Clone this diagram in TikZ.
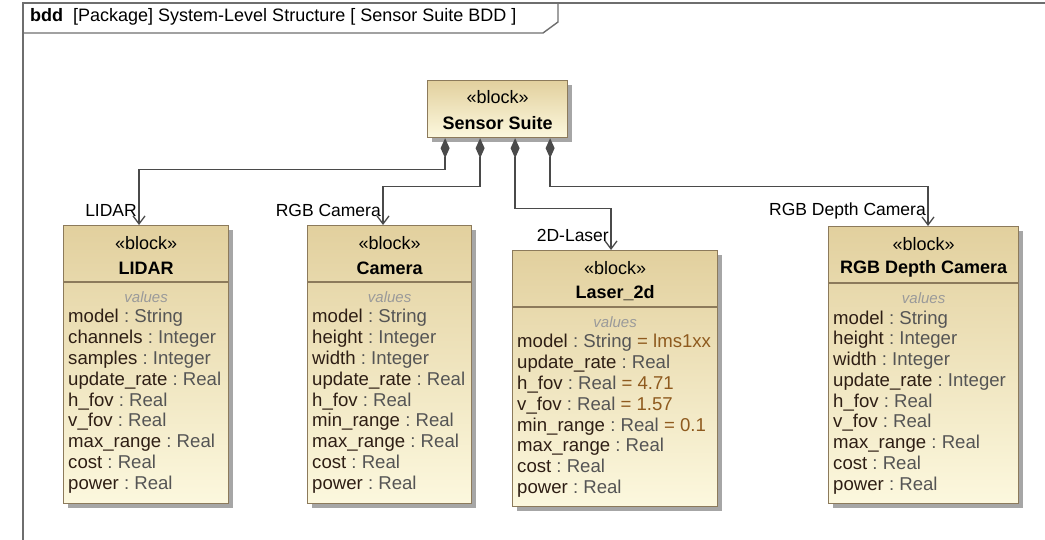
\documentclass[tikz,border=0pt]{standalone}
\usepackage{fontspec}
\setmainfont{Liberation Sans}
\usetikzlibrary{arrows.meta,calc,shadows}

\definecolor{framegray}{HTML}{6E6E6E}
\definecolor{linegray}{HTML}{4A4A4A}
\definecolor{blockedge}{HTML}{8C7A5B}
\definecolor{blocktop}{HTML}{E2D09E}
\definecolor{blockbot}{HTML}{FCF8DE}
\definecolor{attrname}{HTML}{2E1E14}
\definecolor{attrtype}{HTML}{555555}
\definecolor{attrval}{HTML}{8E5A1E}
\definecolor{compgray}{HTML}{9A9A9A}

% attribute line: name : type  (optionally = default)
\newcommand{\an}[2]{{\color{attrname}#1}{\color{attrtype}\ :\ #2}}
\newcommand{\av}[3]{\an{#1}{#2}{\color{attrval}\ =\ #3}}

% header of a block: stereotype, name, divider, compartment title
\newcommand{\blkhead}[2]{%
  \node[stereo] (#1-st) at ($(#1.north)+(0,18)$) {«block»};
  \node[bname] (#1-nm) at ($(#1.north)+(0,43)$) {#2};
  \draw[divider] ($(#1.north west)+(0,57)$) -- ($(#1.north east)+(0,57)$);
  \node[compart] (#1-vl) at ($(#1.north)+(0,72)$) {values};}

\tikzset{
  blockbox/.style={draw=blockedge, line width=1.2pt, top color=blocktop,
    bottom color=blockbot, anchor=north west, inner sep=0pt,
    drop shadow={shadow xshift=4pt, shadow yshift=-4pt, fill=black!35, opacity=1}},
  stereo/.style={font=\fontsize{18}{20}\selectfont, inner sep=0pt},
  bname/.style={font=\fontsize{18}{20}\selectfont\bfseries, inner sep=0pt},
  compart/.style={font=\fontsize{15}{17}\selectfont\itshape, text=compgray, inner sep=0pt},
  divider/.style={draw=blockedge, line width=1.2pt},
  attr/.style={font=\fontsize{18.6}{21}\selectfont, anchor=base west, inner sep=0pt},
  lbl/.style={font=\fontsize{17.5}{20}\selectfont, anchor=east, inner sep=0pt},
  comp/.style={draw=linegray, line width=1.3pt,
    {Diamond[length=20pt,width=9pt,fill=linegray]}-{Straight Barb[length=8pt,width=12pt]}},
  frameline/.style={draw=framegray, line width=1.4pt}
}

\begin{document}
\begin{tikzpicture}[x=1pt, y=-1pt]
\useasboundingbox (0,0) rectangle (1045,540);

% diagram frame with its heading tab
\draw[frameline] (23,541) -- (23,3) -- (1046,3);
\draw[frameline] (23,33) -- (543,33) -- (558,22) -- (558,3);
\node[anchor=base west, inner sep=0pt, font=\fontsize{18}{20}\selectfont] (title) at (30,22)
  {\textbf{bdd}\ \ [Package] System-Level Structure [ Sensor Suite BDD ]};

% blocks
\node[blockbox, minimum width=140pt, minimum height=57pt] (ss) at (427,80) {};
\node[stereo] (ss-st) at ($(ss.north)+(0,17)$) {«block»};
\node[bname] (ss-nm) at ($(ss.north)+(0,43)$) {Sensor Suite};

\node[blockbox, minimum width=165pt, minimum height=278pt] (lidar) at (63,225) {};
\blkhead{lidar}{LIDAR}
\foreach \t [count=\i from 0] in {{\an{model}{String}},{\an{channels}{Integer}},
  {\an{samples}{Integer}},{\an{update\_rate}{Real}},{\an{h\_fov}{Real}},
  {\an{v\_fov}{Real}},{\an{max\_range}{Real}},{\an{cost}{Real}},{\an{power}{Real}}}
  \node[attr] (lidar-r\i) at ($(lidar.north west)+(5,98+20.75*\i)$) {\t};

\node[blockbox, minimum width=164pt, minimum height=278pt] (cam) at (307,225) {};
\blkhead{cam}{Camera}
\foreach \t [count=\i from 0] in {{\an{model}{String}},{\an{height}{Integer}},
  {\an{width}{Integer}},{\an{update\_rate}{Real}},{\an{h\_fov}{Real}},
  {\an{min\_range}{Real}},{\an{max\_range}{Real}},{\an{cost}{Real}},{\an{power}{Real}}}
  \node[attr] (cam-r\i) at ($(cam.north west)+(5,98+20.75*\i)$) {\t};

\node[blockbox, minimum width=205pt, minimum height=256pt] (laser) at (512,250) {};
\blkhead{laser}{Laser\_2d}
\foreach \t [count=\i from 0] in {{\av{model}{String}{lms1xx}},{\an{update\_rate}{Real}},
  {\av{h\_fov}{Real}{4.71}},{\av{v\_fov}{Real}{1.57}},{\av{min\_range}{Real}{0.1}},
  {\an{max\_range}{Real}},{\an{cost}{Real}},{\an{power}{Real}}}
  \node[attr] (laser-r\i) at ($(laser.north west)+(5,98+20.75*\i)$) {\t};

\node[blockbox, minimum width=190pt, minimum height=277pt] (rgbd) at (828,226) {};
\blkhead{rgbd}{RGB Depth Camera}
\foreach \t [count=\i from 0] in {{\an{model}{String}},{\an{height}{Integer}},
  {\an{width}{Integer}},{\an{update\_rate}{Integer}},{\an{h\_fov}{Real}},
  {\an{v\_fov}{Real}},{\an{max\_range}{Real}},{\an{cost}{Real}},{\an{power}{Real}}}
  \node[attr] (rgbd-r\i) at ($(rgbd.north west)+(5,98+20.75*\i)$) {\t};

% arrow entry points on the part blocks
\coordinate (lidar-in) at ($(lidar.north west)+(76,0)$);
\coordinate (cam-in)   at ($(cam.north west)+(76,0)$);
\coordinate (laser-in) at ($(laser.north west)+(99,0)$);
\coordinate (rgbd-in)  at ($(rgbd.north west)+(100,0)$);

% composite associations
\draw[comp] ($(ss.south)+(-52.5,0)$) -- ++(0,31) -| (lidar-in);
\draw[comp] ($(ss.south)+(-17.5,0)$) -- ++(0,48) -| (cam-in);
\draw[comp] ($(ss.south)+(17.5,0)$)  -- ++(0,70) -| (laser-in);
\draw[comp] ($(ss.south)+(52.5,0)$)  -- ++(0,48) -| (rgbd-in);

% part role names
\node[lbl] (lidar-role) at ($(lidar-in)+(-2,-15)$) {LIDAR};
\node[lbl] (cam-role)   at ($(cam-in)+(-2,-15)$) {RGB Camera};
\node[lbl] (laser-role) at ($(laser-in)+(-2,-15)$) {2D-Laser};
\node[lbl] (rgbd-role)  at ($(rgbd-in)+(-2,-15)$) {RGB Depth Camera};
\end{tikzpicture}
\end{document}
